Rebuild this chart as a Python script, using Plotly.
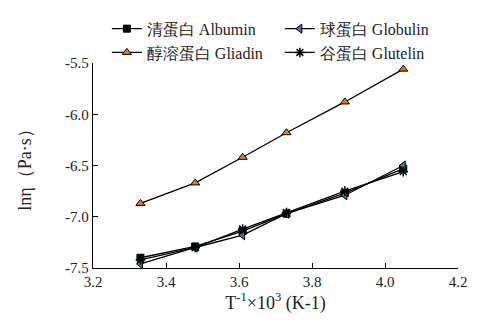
import plotly.graph_objects as go

x_vals = [3.33, 3.48, 3.61, 3.73, 3.89, 4.05]
albumin = [-7.40, -7.29, -7.14, -6.97, -6.77, -6.53]
globulin = [-7.46, -7.30, -7.18, -6.97, -6.79, -6.50]
gliadin = [-6.87, -6.67, -6.42, -6.18, -5.88, -5.56]
glutelin = [-7.42, -7.30, -7.12, -6.96, -6.75, -6.56]

names = ["清蛋白 Albumin", "球蛋白 Globulin", "醇溶蛋白 Gliadin", "谷蛋白 Glutelin"]
x_ticks = [3.2, 3.4, 3.6, 3.8, 4.0, 4.2]
y_ticks = [-7.5, -7.0, -6.5, -6.0, -5.5]

fig = go.Figure()
specs = [
    (albumin, dict(symbol="square", color="black", size=7, line=dict(color="black", width=1))),
    (globulin, dict(symbol="triangle-left", color="#1f8a8a", size=8, line=dict(color="black", width=1))),
    (gliadin, dict(symbol="triangle-up", color="#e07b1a", size=8, line=dict(color="black", width=1))),
    (glutelin, dict(symbol="asterisk-open", color="black", size=8, line=dict(color="black", width=1.5))),
]
for i in range(4):
    ys, mk = specs[i]
    fig.add_trace(go.Scatter(x=x_vals, y=ys, mode="lines+markers", name=names[i],
                             line=dict(color="black", width=1.3), marker=mk))

font_family = "Liberation Serif, Times New Roman, serif"
fig.update_layout(
    width=479, height=327,
    margin=dict(l=93, r=21, t=63, b=59, autoexpand=False),
    paper_bgcolor="white", plot_bgcolor="white",
    font=dict(family=font_family, size=15, color="#222"),
    showlegend=True,
    legend=dict(orientation="h", x=0.038, xanchor="left", y=1.25, yanchor="top",
                entrywidth=128, entrywidthmode="pixels", font=dict(size=16),
                tracegroupgap=0, itemwidth=30, bgcolor="rgba(0,0,0,0)"),
    xaxis=dict(range=[3.2, 4.2], tickvals=x_ticks, ticktext=[f"{v:.1f}" for v in x_ticks],
               showgrid=False, zeroline=False, showline=True, linecolor="black", linewidth=1.3,
               ticks="inside", ticklen=5, tickcolor="black",
               title=dict(text="T<sup>-1</sup>×10<sup>3</sup> (K-1)", standoff=6)),
    yaxis=dict(range=[-7.5, -5.5], tickvals=y_ticks, ticktext=[f"{v:.1f}" for v in y_ticks],
               showgrid=False, zeroline=False, showline=True, linecolor="black", linewidth=1.3,
               ticks="inside", ticklen=5, tickcolor="black",
               title=dict(text="lnη（Pa·s）", standoff=28)),
)
fig.write_html("out.html")
